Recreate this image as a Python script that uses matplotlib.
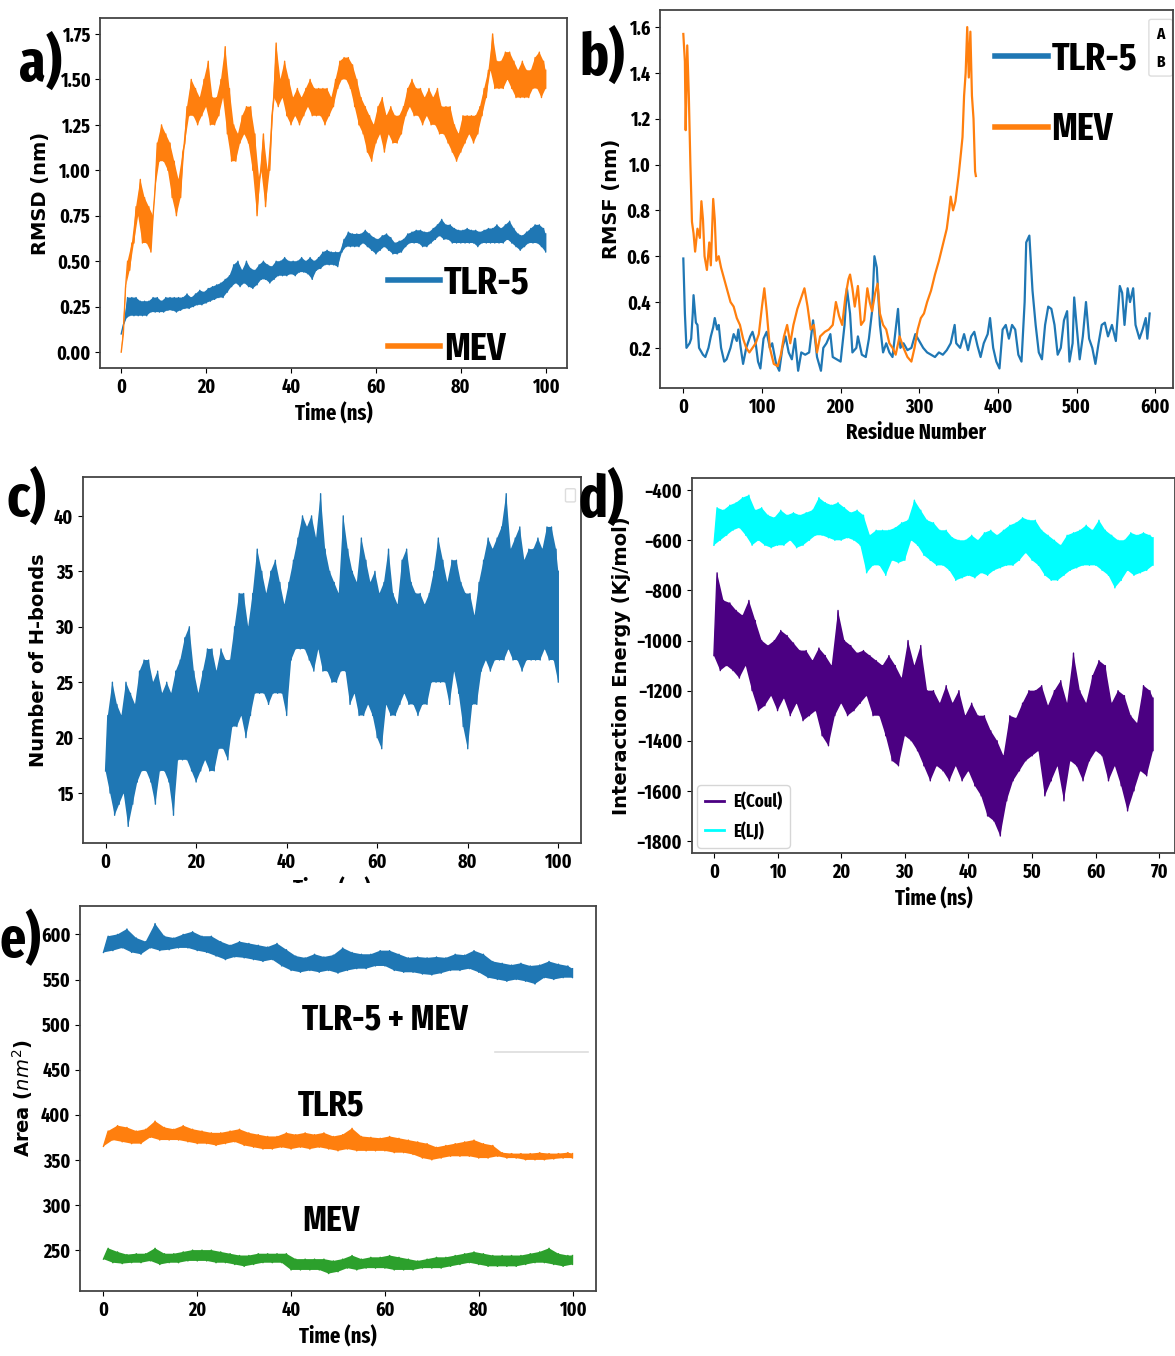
import numpy as np
import matplotlib
matplotlib.use("Agg")
import matplotlib.pyplot as plt
from matplotlib import font_manager
from matplotlib.font_manager import FontProperties
from matplotlib.patches import Rectangle, FancyBboxPatch

# ---- a) RMSD, lower/upper envelope of the trace per ns ----
rmsd_t = np.arange(0, 101)
mev_rmsd_lo = [0.00, 0.35, 0.45, 0.60, 0.75, 0.60, 0.60, 0.55, 0.90, 1.05,
               1.05, 1.00, 0.85, 0.75, 0.85, 1.15, 1.30, 1.30, 1.25, 1.30,
               1.35, 1.25, 1.25, 1.30, 1.40, 1.20, 1.05, 1.05, 1.15, 1.20,
               1.15, 1.00, 0.75, 1.00, 0.80, 1.00, 1.40, 1.35, 1.40, 1.30,
               1.25, 1.30, 1.25, 1.30, 1.35, 1.30, 1.30, 1.30, 1.25, 1.30,
               1.35, 1.45, 1.50, 1.50, 1.45, 1.35, 1.25, 1.20, 1.10, 1.05,
               1.15, 1.20, 1.10, 1.20, 1.15, 1.15, 1.20, 1.30, 1.35, 1.30,
               1.30, 1.25, 1.30, 1.25, 1.25, 1.20, 1.20, 1.15, 1.10, 1.05,
               1.10, 1.15, 1.20, 1.15, 1.20, 1.30, 1.40, 1.55, 1.45, 1.45,
               1.45, 1.50, 1.45, 1.40, 1.40, 1.40, 1.40, 1.45, 1.45, 1.40,
               1.45]
mev_rmsd_hi = [0.10, 0.50, 0.60, 0.80, 0.95, 0.85, 0.80, 0.75, 1.15, 1.25,
               1.20, 1.15, 1.05, 0.95, 1.10, 1.35, 1.50, 1.45, 1.40, 1.50,
               1.60, 1.40, 1.40, 1.50, 1.68, 1.45, 1.25, 1.20, 1.30, 1.35,
               1.35, 1.20, 0.95, 1.20, 1.00, 1.30, 1.70, 1.50, 1.60, 1.50,
               1.40, 1.45, 1.40, 1.45, 1.50, 1.45, 1.45, 1.45, 1.45, 1.40,
               1.50, 1.60, 1.62, 1.62, 1.58, 1.50, 1.40, 1.35, 1.30, 1.25,
               1.35, 1.40, 1.30, 1.35, 1.30, 1.30, 1.35, 1.45, 1.50, 1.45,
               1.45, 1.40, 1.45, 1.40, 1.45, 1.35, 1.35, 1.35, 1.25, 1.20,
               1.30, 1.30, 1.30, 1.30, 1.35, 1.45, 1.55, 1.75, 1.60, 1.60,
               1.65, 1.65, 1.60, 1.55, 1.60, 1.55, 1.55, 1.62, 1.65, 1.60,
               1.55]
tlr_rmsd_lo = [0.10, 0.18, 0.20, 0.20, 0.20, 0.20, 0.20, 0.22, 0.22, 0.22,
               0.22, 0.23, 0.23, 0.22, 0.23, 0.24, 0.24, 0.25, 0.26, 0.26,
               0.27, 0.28, 0.29, 0.30, 0.30, 0.33, 0.36, 0.38, 0.36, 0.38,
               0.36, 0.35, 0.37, 0.40, 0.40, 0.38, 0.40, 0.42, 0.42, 0.42,
               0.43, 0.42, 0.44, 0.44, 0.43, 0.40, 0.45, 0.46, 0.48, 0.48,
               0.48, 0.47, 0.55, 0.58, 0.58, 0.58, 0.58, 0.60, 0.58, 0.56,
               0.54, 0.56, 0.58, 0.56, 0.54, 0.54, 0.55, 0.58, 0.60, 0.60,
               0.60, 0.58, 0.58, 0.60, 0.62, 0.64, 0.62, 0.62, 0.60, 0.60,
               0.60, 0.60, 0.60, 0.60, 0.58, 0.60, 0.60, 0.60, 0.60, 0.60,
               0.60, 0.62, 0.60, 0.58, 0.56, 0.58, 0.60, 0.60, 0.60, 0.58,
               0.55]
tlr_rmsd_hi = [0.15, 0.30, 0.30, 0.30, 0.28, 0.28, 0.28, 0.30, 0.30, 0.28,
               0.30, 0.30, 0.30, 0.30, 0.30, 0.32, 0.30, 0.32, 0.34, 0.33,
               0.35, 0.36, 0.37, 0.38, 0.40, 0.42, 0.48, 0.50, 0.45, 0.50,
               0.46, 0.45, 0.48, 0.50, 0.48, 0.47, 0.50, 0.50, 0.52, 0.50,
               0.50, 0.50, 0.52, 0.50, 0.52, 0.50, 0.52, 0.55, 0.56, 0.55,
               0.55, 0.55, 0.62, 0.66, 0.65, 0.65, 0.65, 0.67, 0.65, 0.63,
               0.62, 0.64, 0.65, 0.63, 0.60, 0.61, 0.62, 0.65, 0.66, 0.67,
               0.67, 0.66, 0.66, 0.68, 0.70, 0.73, 0.70, 0.70, 0.68, 0.67,
               0.67, 0.68, 0.67, 0.67, 0.66, 0.67, 0.68, 0.68, 0.70, 0.68,
               0.70, 0.72, 0.68, 0.65, 0.64, 0.66, 0.68, 0.70, 0.70, 0.68,
               0.65]

# ---- b) RMSF per residue ----
tlr_res = [0, 2, 4, 8, 10, 12, 13, 16, 18, 20, 25, 28, 32, 35, 38, 40, 43, 45, 48, 52,
           55, 60, 64, 68, 70, 73, 76, 80, 85, 88, 92, 95, 98, 102, 106, 110, 113, 118, 122, 126,
           130, 134, 138, 142, 146, 150, 155, 160, 165, 170, 175, 178, 182, 187, 190, 195, 200, 205, 208, 212,
           215, 220, 222, 227, 232, 236, 240, 243, 246, 250, 254, 258, 262, 266, 270, 273, 276, 280, 285, 290,
           295, 300, 305, 310, 315, 320, 325, 330, 335, 340, 345, 347, 352, 357, 362, 366, 370, 374, 378, 382,
           387, 390, 394, 398, 402, 406, 410, 414, 418, 422, 426, 430, 434, 436, 440, 444, 448, 452, 456, 460,
           464, 468, 472, 476, 480, 484, 488, 491, 495, 497, 500, 504, 508, 512, 516, 520, 524, 528, 532, 536,
           540, 545, 550, 555, 558, 561, 565, 568, 572, 575, 580, 584, 588, 590, 593]
tlr_rmsf = [0.59, 0.35, 0.20, 0.22, 0.24, 0.35, 0.43, 0.31, 0.30, 0.20, 0.17, 0.16, 0.20, 0.25, 0.29, 0.33, 0.28, 0.30, 0.20, 0.14,
            0.15, 0.20, 0.26, 0.23, 0.28, 0.20, 0.13, 0.20, 0.25, 0.27, 0.22, 0.14, 0.11, 0.24, 0.27, 0.20, 0.22, 0.13, 0.10, 0.20,
            0.25, 0.18, 0.15, 0.24, 0.10, 0.18, 0.17, 0.18, 0.32, 0.16, 0.10, 0.20, 0.22, 0.26, 0.16, 0.15, 0.14, 0.30, 0.46, 0.35,
            0.18, 0.20, 0.25, 0.17, 0.16, 0.24, 0.36, 0.60, 0.55, 0.30, 0.18, 0.22, 0.18, 0.16, 0.28, 0.37, 0.20, 0.22, 0.19, 0.20,
            0.26, 0.23, 0.20, 0.18, 0.17, 0.16, 0.18, 0.17, 0.19, 0.22, 0.30, 0.22, 0.20, 0.26, 0.19, 0.25, 0.27, 0.21, 0.16, 0.22,
            0.26, 0.33, 0.20, 0.14, 0.11, 0.28, 0.30, 0.24, 0.30, 0.28, 0.17, 0.14, 0.40, 0.66, 0.69, 0.45, 0.30, 0.18, 0.15, 0.30,
            0.38, 0.37, 0.30, 0.17, 0.20, 0.32, 0.36, 0.14, 0.22, 0.42, 0.30, 0.15, 0.25, 0.40, 0.24, 0.20, 0.13, 0.22, 0.30, 0.31,
            0.25, 0.30, 0.23, 0.47, 0.44, 0.30, 0.46, 0.40, 0.46, 0.30, 0.24, 0.28, 0.33, 0.24, 0.35]
mev_res = [0, 2, 3, 5, 7, 9, 11, 13, 15, 18, 21, 23, 25, 27, 30, 33, 35, 38, 40, 42,
           45, 48, 52, 56, 60, 64, 68, 72, 76, 80, 84, 88, 92, 96, 100, 103, 106, 110, 115, 120,
           124, 128, 132, 136, 140, 145, 150, 154, 158, 162, 166, 170, 174, 180, 185, 190, 194, 198, 202, 206,
           210, 212, 215, 218, 222, 226, 230, 234, 237, 240, 244, 247, 250, 254, 258, 262, 266, 270, 275, 280,
           285, 290, 294, 298, 302, 306, 310, 315, 320, 325, 330, 335, 338, 340, 343, 346, 350, 353, 355, 357,
           359, 361, 363, 365, 367, 369, 371, 372]
mev_rmsf = [1.57, 1.45, 1.15, 1.52, 1.30, 1.00, 0.75, 0.70, 0.62, 0.72, 0.68, 0.84, 0.76, 0.60, 0.54, 0.66, 0.56, 0.85, 0.76, 0.58,
            0.60, 0.55, 0.50, 0.45, 0.40, 0.38, 0.33, 0.30, 0.24, 0.20, 0.18, 0.20, 0.22, 0.26, 0.38, 0.46, 0.36, 0.20, 0.13, 0.12,
            0.17, 0.25, 0.30, 0.22, 0.30, 0.37, 0.42, 0.46, 0.38, 0.28, 0.30, 0.18, 0.25, 0.27, 0.28, 0.30, 0.40, 0.34, 0.30, 0.42,
            0.50, 0.52, 0.46, 0.38, 0.47, 0.30, 0.32, 0.46, 0.40, 0.36, 0.44, 0.48, 0.35, 0.30, 0.28, 0.22, 0.20, 0.17, 0.25, 0.20,
            0.16, 0.14, 0.20, 0.28, 0.33, 0.35, 0.40, 0.45, 0.52, 0.58, 0.65, 0.72, 0.80, 0.86, 0.80, 0.84, 0.95, 1.05, 1.12, 1.30,
            1.40, 1.60, 1.38, 1.58, 1.30, 1.20, 0.97, 0.95]

# ---- c) number of H-bonds, envelope per ns ----
hb_t = np.arange(0, 101)
hb_lo = [17, 15, 13, 14, 15, 12, 14, 16, 17, 17,
         16, 14, 17, 17, 16, 13, 18, 18, 18, 17,
         16, 17, 18, 17, 17, 19, 19, 18, 21, 21,
         22, 20, 22, 24, 24, 24, 23, 24, 24, 24,
         22, 27, 28, 28, 28, 27, 26, 28, 26, 26,
         25, 25, 26, 26, 23, 24, 22, 22, 23, 22,
         20, 19, 23, 22, 22, 23, 24, 23, 23, 22,
         23, 23, 25, 25, 25, 25, 23, 26, 24, 21,
         19, 23, 23, 26, 27, 26, 27, 27, 27, 28,
         27, 27, 26, 27, 27, 27, 27, 28, 27, 27,
         25]
hb_hi = [22, 25, 23, 22, 25, 24, 23, 26, 27, 27,
         25, 26, 24, 25, 24, 26, 27, 29, 30, 26,
         24, 26, 28, 28, 26, 28, 27, 27, 30, 33,
         33, 30, 33, 37, 35, 33, 35, 36, 34, 32,
         34, 36, 38, 40, 39, 40, 38, 42, 37, 35,
         34, 33, 40, 37, 35, 34, 38, 36, 34, 35,
         33, 34, 37, 33, 32, 36, 37, 34, 33, 33,
         32, 33, 35, 38, 36, 34, 36, 36, 34, 33,
         33, 31, 34, 36, 38, 37, 38, 39, 42, 37,
         38, 39, 36, 37, 37, 38, 37, 39, 39, 37,
         35]

# ---- d) interaction energy, envelope per ns ----
ie_t = np.arange(0, 70)
lj_lo = [-620, -600, -580, -560, -550, -580, -620, -600, -620, -630,
         -620, -620, -600, -630, -620, -600, -580, -580, -590, -600,
         -600, -590, -600, -620, -730, -700, -700, -740, -680, -690,
         -680, -600, -620, -660, -680, -700, -700, -720, -760, -750,
         -740, -750, -730, -740, -720, -710, -700, -700, -680, -650,
         -680, -700, -740, -760, -760, -740, -720, -710, -700, -700,
         -700, -720, -740, -790, -760, -720, -740, -730, -720, -700]
lj_hi = [-470, -480, -460, -450, -430, -420, -480, -470, -500, -510,
         -480, -500, -490, -500, -490, -480, -430, -450, -460, -450,
         -470, -490, -480, -500, -580, -560, -560, -560, -550, -530,
         -520, -440, -480, -520, -530, -560, -560, -590, -600, -600,
         -580, -600, -570, -560, -580, -560, -540, -530, -510, -520,
         -520, -560, -580, -600, -620, -580, -570, -560, -540, -560,
         -520, -560, -580, -600, -600, -570, -580, -570, -580, -590]
coul_lo = [-1060, -1120, -1100, -1120, -1150, -1100, -1200, -1280, -1260, -1220,
           -1280, -1230, -1300, -1250, -1320, -1300, -1280, -1380, -1420, -1300,
           -1250, -1300, -1280, -1250, -1220, -1300, -1300, -1380, -1480, -1500,
           -1380, -1400, -1440, -1500, -1560, -1500, -1520, -1560, -1500, -1560,
           -1520, -1580, -1620, -1700, -1720, -1780, -1640, -1560, -1520, -1480,
           -1460, -1440, -1620, -1560, -1500, -1640, -1480, -1500, -1560, -1480,
           -1440, -1460, -1560, -1500, -1580, -1680, -1600, -1520, -1540, -1440]
coul_hi = [-730, -840, -850, -880, -900, -840, -920, -1000, -1020, -1000,
           -960, -980, -1010, -1040, -1040, -1080, -1030, -1060, -1100, -880,
           -1000, -1020, -1050, -1040, -1060, -1080, -1100, -1060, -1100, -1150,
           -1000, -1100, -1020, -1200, -1200, -1250, -1180, -1250, -1200, -1300,
           -1250, -1300, -1300, -1360, -1400, -1460, -1300, -1310, -1250, -1200,
           -1200, -1180, -1260, -1200, -1160, -1250, -1050, -1200, -1250, -1140,
           -1080, -1100, -1250, -1200, -1220, -1300, -1330, -1180, -1200, -1230]

# ---- e) SASA, envelope every 2 ns ----
sasa_t = np.arange(0, 101, 2)
cplx_lo = [580, 582, 585, 580, 578, 585, 582, 583, 585, 585,
           582, 580, 576, 572, 575, 574, 572, 570, 572, 565,
           560, 558, 560, 558, 560, 557, 560, 562, 562, 565,
           565, 560, 558, 558, 556, 555, 557, 560, 560, 562,
           558, 552, 550, 548, 550, 548, 545, 552, 550, 552,
           552]
cplx_hi = [598, 600, 606, 596, 592, 612, 598, 596, 600, 603,
           598, 598, 592, 588, 592, 590, 588, 586, 590, 583,
           576, 574, 578, 575, 577, 585, 580, 578, 578, 582,
           582, 578, 574, 575, 574, 575, 574, 578, 577, 582,
           578, 570, 568, 566, 568, 565, 566, 570, 567, 565,
           562]
tlr5_lo = [365, 372, 370, 368, 368, 375, 372, 372, 372, 370,
           368, 368, 366, 368, 370, 366, 364, 362, 362, 364,
           362, 364, 362, 364, 362, 360, 362, 360, 360, 360,
           360, 358, 358, 356, 352, 350, 352, 354, 354, 354,
           352, 352, 354, 352, 352, 350, 350, 350, 351, 352,
           352]
tlr5_hi = [382, 388, 386, 382, 384, 393, 386, 384, 388, 384,
           382, 380, 380, 382, 384, 380, 378, 376, 376, 380,
           378, 380, 378, 380, 376, 378, 385, 376, 375, 374,
           376, 374, 372, 370, 368, 364, 366, 368, 370, 372,
           368, 366, 358, 357, 357, 357, 358, 357, 357, 358,
           357]
mev_lo = [240, 236, 235, 236, 236, 238, 234, 236, 236, 238,
          238, 238, 236, 236, 234, 232, 234, 236, 236, 236,
          228, 228, 228, 228, 224, 226, 230, 228, 230, 230,
          230, 228, 228, 228, 230, 230, 230, 232, 234, 236,
          234, 232, 232, 232, 232, 234, 236, 236, 234, 232,
          234]
mev_hi = [252, 248, 245, 246, 246, 252, 246, 246, 248, 250,
          250, 250, 248, 246, 244, 244, 246, 246, 246, 246,
          240, 240, 240, 240, 238, 240, 244, 240, 242, 242,
          244, 242, 240, 238, 240, 242, 242, 244, 246, 248,
          246, 244, 244, 244, 244, 246, 248, 252, 246, 244,
          244]


def narrow_font_path():
    # pick the narrowest installed bold sans face
    best = None
    for f in font_manager.fontManager.ttflist:
        key = (f.name + ' ' + f.fname).lower().replace(' ', '').replace('-', '').replace('_', '')
        if 'mono' in key or 'italic' in key or 'oblique' in key:
            continue
        if 'serif' in key.replace('sansserif', ''):
            continue
        if 'extracondensed' in key or 'ultracondensed' in key:
            width = 3
        elif 'semicondensed' in key:
            width = 1
        elif 'condensed' in key or 'narrow' in key or 'cond' in key:
            width = 2
        else:
            continue
        stem = key.split('/')[-1]
        if 'extrabold' in stem or 'semibold' in stem or 'black' in stem or 'light' in stem \
                or 'thin' in stem or 'medium' in stem:
            bold = 0
        elif 'bold' in stem or str(f.weight) in ('bold', '700'):
            bold = 1
        else:
            bold = 0
        score = width * 10 + bold * 5 + (1 if 'noto' in key else 0)
        if best is None or score > best[0]:
            best = (score, f.fname)
    return best[1] if best else None


COND_PATH = narrow_font_path()


def cfont(size):
    if COND_PATH:
        return FontProperties(fname=COND_PATH, size=size)
    return FontProperties(family='DejaVu Sans', weight='bold', size=size)


def zigzag(t, lo, hi):
    # trace alternating between the read low and high values
    t = np.asarray(t, float)
    step = t[1] - t[0]
    x = np.column_stack([t, np.minimum(t + step / 2, t[-1])]).ravel()
    y = np.column_stack([lo, hi]).ravel()
    return x, y


def band(ax, t, lo, hi, color, lw, label=None):
    x, y = zigzag(t, lo, hi)
    ax.fill(np.concatenate([x[1::2], np.asarray(t, float)[::-1]]),
            np.concatenate([np.asarray(hi, float), np.asarray(lo, float)[::-1]]),
            color=color, lw=0)
    ax.plot(x, y, color=color, lw=lw, label=label)


def style(ax, ylabel, xlabel):
    ax.set_ylabel(ylabel, family='DejaVu Sans', fontweight='bold', fontsize=14)
    ax.set_xlabel(xlabel, fontproperties=cfont(16))
    for lab in ax.get_xticklabels() + ax.get_yticklabels():
        lab.set_fontproperties(cfont(14))
    for s in ax.spines.values():
        s.set_linewidth(1.3)
        s.set_edgecolor('#444444')


fig = plt.figure(figsize=(11.75, 13.56), dpi=100)

# a)
ax = fig.add_axes([0.0851, 0.7286, 0.3974, 0.2581])
band(ax, rmsd_t, tlr_rmsd_lo, tlr_rmsd_hi, '#1f77b4', 1.0, 'TLR-5')
band(ax, rmsd_t, mev_rmsd_lo, mev_rmsd_hi, '#ff7f0e', 1.0, 'MEV')
ax.set_yticks([0, 0.25, 0.5, 0.75, 1.0, 1.25, 1.5, 1.75])
style(ax, 'RMSD (nm)', 'Time (ns)')
leg = ax.legend(loc='lower right', bbox_to_anchor=(0.995, -0.1), frameon=False, prop=cfont(28),
                handlelength=1.35, labelspacing=0.75, handletextpad=0.1)
for h in leg.legend_handles:
    h.set_linewidth(4)

# b)
ax = fig.add_axes([0.5617, 0.7139, 0.4366, 0.2788])
ax.plot(tlr_res, tlr_rmsf, color='#1f77b4', lw=1.6, label='TLR-5')
ax.plot(mev_res, mev_rmsf, color='#ff7f0e', lw=1.6, label='MEV')
ax.set_yticks([0.2, 0.4, 0.6, 0.8, 1.0, 1.2, 1.4, 1.6])
style(ax, 'RMSF (nm)', 'Residue Number')
leg = ax.legend(loc='upper left', bbox_to_anchor=(0.585, 1.01), frameon=False, prop=cfont(28),
                handlelength=1.35, labelspacing=0.85, handletextpad=0.1)
for h in leg.legend_handles:
    h.set_linewidth(4)
ax.add_patch(FancyBboxPatch((0.958, 0.83), 0.036, 0.14, boxstyle='round,pad=0.005',
                            transform=ax.transAxes, fc='white', ec='#dddddd', lw=1))
ax.text(0.976, 0.935, 'A', transform=ax.transAxes, ha='center', va='center', fontproperties=cfont(12))
ax.text(0.976, 0.86, 'B', transform=ax.transAxes, ha='center', va='center', fontproperties=cfont(12))

# c)
ax = fig.add_axes([0.0706, 0.3783, 0.4238, 0.2699])
band(ax, hb_t, hb_lo, hb_hi, '#1f77b4', 1.0)
style(ax, 'Number of H-bonds', 'Time (ns)')
ax.add_patch(FancyBboxPatch((0.972, 0.935), 0.014, 0.03, boxstyle='round,pad=0.003',
                            transform=ax.transAxes, fc='white', ec='#dddddd', lw=1))

# d)
ax = fig.add_axes([0.5889, 0.3709, 0.4111, 0.2765])
band(ax, ie_t, coul_lo, coul_hi, '#4b0082', 1.0, 'E(Coul)')
band(ax, ie_t, lj_lo, lj_hi, '#00ffff', 1.0, 'E(LJ)')
ax.set_yticks(np.arange(-1800, -399, 200))
style(ax, 'Interaction Energy (Kj/mol)', 'Time (ns)')
leg = ax.legend(loc='lower left', prop=cfont(13), handlelength=1.1, handletextpad=0.5,
                borderaxespad=0.3, labelspacing=0.6)
for h in leg.legend_handles:
    h.set_linewidth(2)

# e)
ax = fig.add_axes([0.0681, 0.0479, 0.4391, 0.2839])
band(ax, sasa_t, cplx_lo, cplx_hi, '#1f77b4', 1.0)
band(ax, sasa_t, tlr5_lo, tlr5_hi, '#ff7f0e', 1.0)
band(ax, sasa_t, mev_lo, mev_hi, '#2ca02c', 1.0)
style(ax, 'Area ($nm^2$)', 'Time (ns)')
ax.text(60, 505, 'TLR-5 + MEV', ha='center', va='center', fontproperties=cfont(26))
ax.text(48.5, 410, 'TLR5', ha='center', va='center', fontproperties=cfont(26))
ax.text(48.5, 282, 'MEV', ha='center', va='center', fontproperties=cfont(26))
ax.plot([0.805, 0.985], [0.62, 0.62], transform=ax.transAxes, color='#dddddd', lw=1.2)

# white strip hiding most of the c) x label, as in the source image
fig.add_artist(Rectangle((0, 1 - 905 / 1356), 0.51, 22 / 1356, transform=fig.transFigure,
                         fc='white', ec='none', zorder=5))

# panel letters
for lab, (px, py, fs) in zip(['a)', 'b)', 'c)', 'd)', 'e)'],
                             [(40, 64, 42), (602, 58, 42), (26, 499, 42), (601, 500, 42),
                              (20, 941, 40)]):
    fig.text(px / 1175, 1 - py / 1356, lab, ha='center', va='center', fontproperties=cfont(fs),
             zorder=6)

fig.savefig('out.png', dpi=100)
